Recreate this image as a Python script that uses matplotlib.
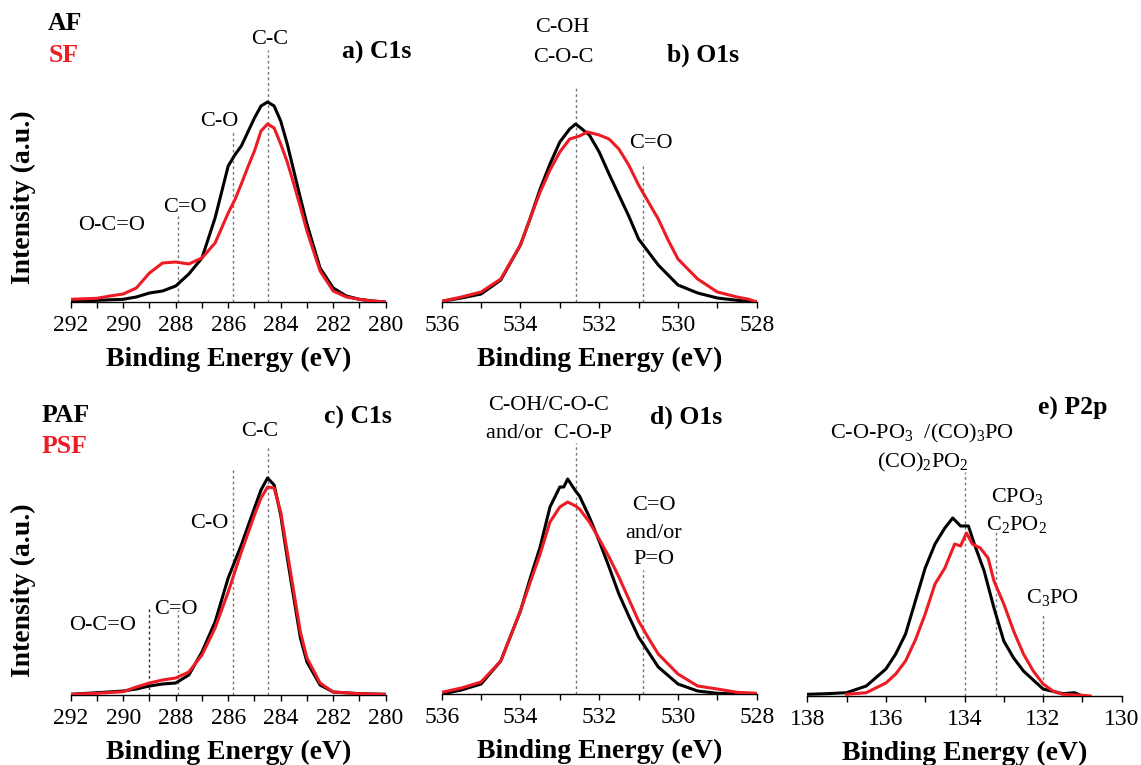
import matplotlib
matplotlib.use("Agg")
import numpy as np
import matplotlib.pyplot as plt
from matplotlib.ticker import MultipleLocator

plt.rcParams["font.family"] = ["Liberation Serif", "DejaVu Serif"]
plt.rcParams["mathtext.fontset"] = "custom"
plt.rcParams["mathtext.rm"] = "Liberation Serif"

# ---------------------------------------------------------------
#  Dados (intensidade em unidades arbitrárias)
# ---------------------------------------------------------------
# a) C1s  AF / SF
c1s_af_be = [292, 291, 290, 289.5, 289, 288.5, 288, 287.5, 287, 286.5, 286, 285.75, 285.5,
             285.25, 285, 284.75, 284.5, 284.25, 284, 283.75, 283.5, 283.25, 283, 282.5,
             282, 281.5, 281, 280.5, 280]
c1s_af_int = [1, 1.7, 2.7, 5, 9, 11, 16, 28, 44, 84, 136, 147, 156,
              170, 184, 196, 200, 196, 181, 158, 131, 104, 78, 34,
              14, 6, 2.7, 1, 0]
c1s_sf_be = [292, 291, 290.5, 290, 289.5, 289, 288.5, 288, 287.5, 287, 286.5, 286, 285.75,
             285.5, 285.25, 285, 284.75, 284.5, 284.25, 284, 283.75, 283.5, 283.25, 283,
             282.5, 282, 281.5, 281, 280.5, 280]
c1s_sf_int = [2.7, 3.7, 6, 8, 14, 29, 39, 40, 38, 44, 59, 89, 102,
              118, 135, 151, 171, 178, 174, 158, 140, 118, 95, 71,
              31, 11, 5, 2.7, 1, 0]

# b) O1s  AF / SF
o1s_af_be = [536, 535.5, 535, 534.5, 534, 533.75, 533.5, 533.25, 533, 532.75, 532.6,
             532.5, 532.25, 532, 531.75, 531.5, 531.25, 531, 530.5, 530, 529.5, 529,
             528.5, 528]
o1s_af_int = [0.7, 4, 8, 22, 57, 84, 113, 138, 160, 173, 178,
              175, 167, 150, 128, 107, 86, 63, 37, 17, 9, 4,
              1.7, 0]
o1s_sf_be = [536, 535.5, 535, 534.5, 534, 533.75, 533.5, 533.25, 533, 532.75, 532.5,
             532.3, 532, 531.75, 531.5, 531.25, 531, 530.75, 530.5, 530.25, 530, 529.5,
             529, 528.5, 528.2, 528]
o1s_sf_int = [0.7, 5, 10, 23, 57, 84, 110, 132, 150, 163, 166,
              170, 167, 163, 153, 137, 117, 100, 83, 62, 43, 23,
              10, 5, 2.7, 0]

# c) C1s  PAF / PSF
c1s_paf_be = [292, 291, 290, 289.5, 289, 288.5, 288, 287.5, 287, 286.5, 286, 285.5,
              285, 284.75, 284.5, 284.25, 284, 283.75, 283.5, 283.25, 283, 282.5, 282, 281, 280]
c1s_paf_int = [0.7, 2.3, 4, 6, 9, 11, 12, 20, 43, 73, 117, 150,
               187, 205, 217, 210, 180, 137, 97, 57, 33, 10, 3, 1.3, 0.7]
c1s_psf_be = c1s_paf_be
c1s_psf_int = [0.7, 1.7, 3.3, 8, 12, 15, 17, 23, 40, 67, 103, 143,
               180, 197, 208, 207, 183, 143, 103, 63, 37, 12, 3, 1.3, 0.7]

# d) O1s  PAF / PSF
o1s_paf_be = [536, 535.5, 535, 534.5, 534, 533.75, 533.5, 533.25, 533, 532.9, 532.8,
              532.6, 532.5, 532.25, 532, 531.75, 531.5, 531.25, 531, 530.5, 530, 529.5,
              529, 528.5, 528]
o1s_paf_int = [0, 4, 10, 33, 83, 116, 147, 187, 207, 207, 215,
               203, 198, 177, 153, 127, 100, 78, 57, 27, 10, 3,
               0.7, 0, 0]
o1s_psf_be = [536, 535.5, 535, 534.5, 534, 533.75, 533.5, 533.25, 533, 532.8, 532.6,
              532.5, 532.25, 532, 531.75, 531.5, 531.25, 531, 530.75, 530.5, 530, 529.5,
              529, 528.5, 528]
o1s_psf_int = [1.7, 6, 12, 33, 83, 112, 140, 172, 187, 192, 188,
               185, 172, 155, 137, 117, 95, 73, 56, 40, 20, 8,
               5, 1.7, 0.7]

# e) P2p  PAF / PSF
p2p_paf_be = [138, 137.5, 137, 136.5, 136, 135.75, 135.5, 135.25, 135, 134.75, 134.5,
              134.3, 134.1, 133.9, 133.75, 133.5, 133.25, 133, 132.75, 132.5, 132,
              131.5, 131.2, 131]
p2p_paf_int = [1.7, 2.3, 3.3, 10, 27, 42, 62, 95, 128, 152, 168,
               178, 170, 170, 152, 125, 88, 55, 38, 25, 7,
               2.3, 3.3, 0]
p2p_psf_be = [137, 136.5, 136, 135.75, 135.5, 135.25, 135, 134.75, 134.5, 134.25, 134.1,
              133.95, 133.8, 133.6, 133.4, 133.25, 133, 132.75, 132.5, 132.25, 132,
              131.75, 131.5, 131, 130.8]
p2p_psf_int = [1.7, 3.3, 13, 22, 35, 56, 82, 112, 128, 152, 150,
               163, 152, 148, 138, 115, 92, 65, 42, 25, 12,
               5, 1.7, 0.7, 0]

# ---------------------------------------------------------------
#  Figura
# ---------------------------------------------------------------
W, H = 1141, 765
PRETO = "#000000"
VERMELHO = "#ed1c24"
CINZA = "#777777"

fig = plt.figure(figsize=(W / 100, H / 100), dpi=100)


def eixo(x0, x1, y_topo, y_base, xlim, ticks_lbl):
    """Cria eixo em coordenadas de pixel; y em px acima da linha de base."""
    ax = fig.add_axes([x0 / W, (H - y_base) / H, (x1 - x0) / W, (y_base - y_topo) / H])
    ax.set_xlim(*xlim)
    ax.set_ylim(0, y_base - y_topo)
    for s in ["top", "left", "right"]:
        ax.spines[s].set_visible(False)
    ax.spines["bottom"].set_linewidth(1.0)
    ax.set_yticks([])
    ax.xaxis.set_major_locator(MultipleLocator(2))
    ax.xaxis.set_minor_locator(MultipleLocator(1))
    ax.tick_params(axis="x", which="both", direction="out", length=4.5, width=1.0,
                   labelsize=17, pad=5)
    ax.set_xticks(ticks_lbl)
    ax.set_xticklabels([str(t) for t in ticks_lbl])
    ax.set_xlabel("Binding Energy (eV)", fontsize=20, fontweight="bold", labelpad=8)
    ax.patch.set_alpha(0)
    return ax, y_base


def vlinha(ax, base, be, y_top_px, cor=CINZA):
    ax.plot([be, be], [0, base - y_top_px], color=cor, lw=1.0, ls=(0, (2, 2)), zorder=1,
            clip_on=False)


def texto(ax, base, be, y_px, s, **kw):
    kw.setdefault("fontsize", 16)
    kw.setdefault("ha", "center")
    kw.setdefault("va", "center")
    ax.text(be, base - y_px, s, clip_on=False, **kw)


def titulo(ax, base, be, y_px, s):
    texto(ax, base, be, y_px, s, fontsize=18.5, fontweight="bold")


C1S_TICKS = [292, 290, 288, 286, 284, 282, 280]
O1S_TICKS = [536, 534, 532, 530, 528]
P2P_TICKS = [138, 136, 134, 132, 130]

# a) C1s
ax, b = eixo(70.7, 385.7, 0, 302, (292, 280), C1S_TICKS)
vlinha(ax, b, 284.5, 50)
vlinha(ax, b, 285.8, 130)
vlinha(ax, b, 287.9, 215)
ax.plot(c1s_af_be, c1s_af_int, color=PRETO, lw=2.2, zorder=3)
ax.plot(c1s_sf_be, c1s_sf_int, color=VERMELHO, lw=2.2, zorder=4)
texto(ax, b, 284.43, 40, "C-C")
texto(ax, b, 286.35, 122, "C-O")
texto(ax, b, 287.65, 208, "C=O")
texto(ax, b, 290.45, 225, "O-C=O")
titulo(ax, b, 280.33, 52, "a) C1s")
fig.text(65 / W, 1 - 24 / H, "AF", fontsize=18.5, fontweight="bold", color=PRETO,
         ha="center", va="center")
fig.text(64 / W, 1 - 56 / H, "SF", fontsize=18.5, fontweight="bold", color=VERMELHO,
         ha="center", va="center")
fig.text(23 / W, 1 - 197 / H, "Intensity (a.u.)", fontsize=20, fontweight="bold",
         rotation=90, ha="center", va="center")

# b) O1s
ax, b = eixo(441.7, 756.7, 0, 302, (536, 528), O1S_TICKS)
vlinha(ax, b, 532.6, 88)
vlinha(ax, b, 530.9, 163)
ax.plot(o1s_af_be, o1s_af_int, color=PRETO, lw=2.2, zorder=3)
ax.plot(o1s_sf_be, o1s_sf_int, color=VERMELHO, lw=2.2, zorder=4)
texto(ax, b, 532.95, 28, "C-OH")
texto(ax, b, 532.9, 57, "C-O-C")
texto(ax, b, 530.7, 143, "C=O")
titulo(ax, b, 529.37, 55, "b) O1s")

# c) C1s
ax, b = eixo(70.7, 385.7, 380, 695, (292, 280), C1S_TICKS)
vlinha(ax, b, 284.5, 447)
vlinha(ax, b, 285.8, 470)
vlinha(ax, b, 287.9, 610)
vlinha(ax, b, 289.0, 608, cor="#333333")
ax.plot(c1s_paf_be, c1s_paf_int, color=PRETO, lw=2.2, zorder=3)
ax.plot(c1s_psf_be, c1s_psf_int, color=VERMELHO, lw=2.2, zorder=4)
texto(ax, b, 284.79, 432, "C-C")
texto(ax, b, 286.73, 523, "C-O")
texto(ax, b, 288.0, 610, "C=O")
texto(ax, b, 290.8, 626, "O-C=O")
titulo(ax, b, 281.07, 417, "c) C1s")
fig.text(66 / W, 1 - 416 / H, "PAF", fontsize=18.5, fontweight="bold", color=PRETO,
         ha="center", va="center")
fig.text(64 / W, 1 - 446 / H, "PSF", fontsize=18.5, fontweight="bold", color=VERMELHO,
         ha="center", va="center")
fig.text(23 / W, 1 - 590 / H, "Intensity (a.u.)", fontsize=20, fontweight="bold",
         rotation=90, ha="center", va="center")

# d) O1s
ax, b = eixo(441.7, 756.7, 380, 694, (536, 528), O1S_TICKS)
vlinha(ax, b, 532.6, 443)
vlinha(ax, b, 530.9, 570)
ax.plot(o1s_paf_be, o1s_paf_int, color=PRETO, lw=2.2, zorder=3)
ax.plot(o1s_psf_be, o1s_psf_int, color=VERMELHO, lw=2.2, zorder=4)
texto(ax, b, 533.28, 405, "C-OH/C-O-C")
texto(ax, b, 533.28, 433, "and/or  C-O-P")
texto(ax, b, 530.6, 505, "C=O")
texto(ax, b, 530.62, 533, "and/or")
texto(ax, b, 530.6, 560, "P=O")
titulo(ax, b, 529.8, 417, "d) O1s")

# e) P2p
ax, b = eixo(807.3, 1121.7, 380, 696, (138, 130), P2P_TICKS)
vlinha(ax, b, 134.0, 472)
vlinha(ax, b, 133.2, 530)
vlinha(ax, b, 132.0, 613)
ax.plot(p2p_paf_be, p2p_paf_int, color=PRETO, lw=2.2, zorder=3)
ax.plot(p2p_psf_be, p2p_psf_int, color=VERMELHO, lw=2.2, zorder=4)
texto(ax, b, 135.07, 433, r"C-O-PO$_3$  /(CO)$_3$PO")
texto(ax, b, 135.07, 462, r"(CO)$_2$PO$_2$")
texto(ax, b, 132.66, 497, r"CPO$_3$")
texto(ax, b, 132.68, 525, r"C$_2$PO$_2$")
texto(ax, b, 131.75, 598, r"C$_3$PO")
titulo(ax, b, 131.24, 408, "e) P2p")

fig.savefig("out.png", dpi=100)
plt.close("all")
